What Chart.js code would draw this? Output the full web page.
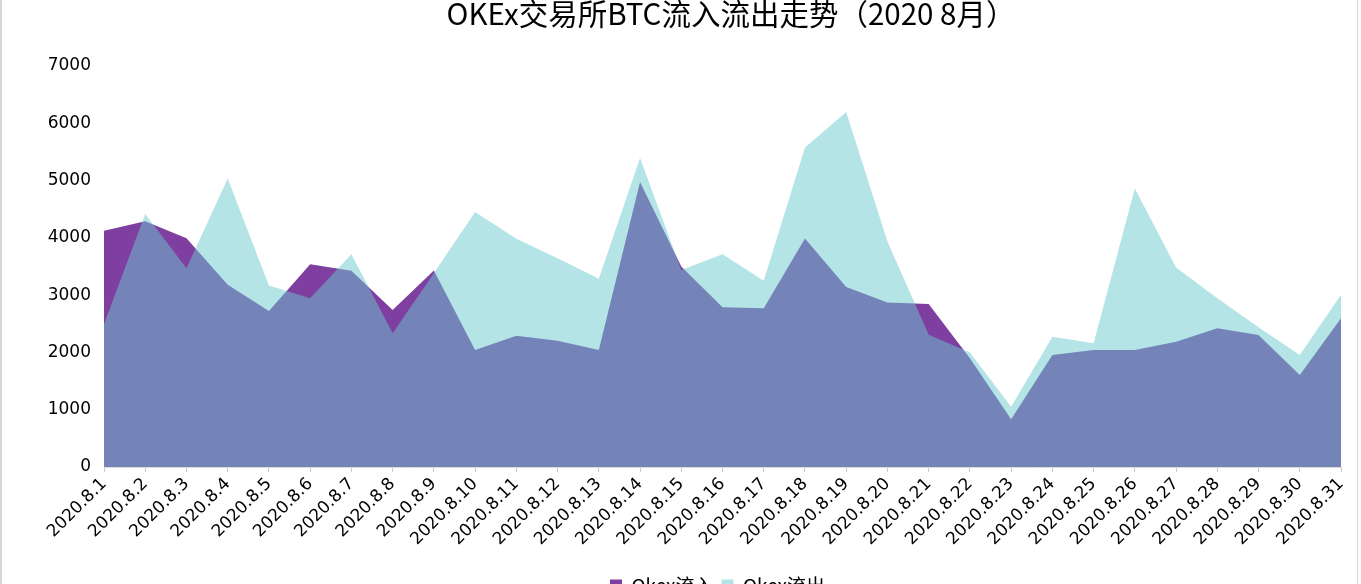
<!DOCTYPE html>
<html>
<head>
<meta charset="utf-8">
<title>OKEx交易所BTC流入流出走势</title>
<script src="https://cdn.jsdelivr.net/npm/chart.js@4/dist/chart.umd.min.js"></script>
<style>
  html, body { margin: 0; padding: 0; background: #fff; overflow: hidden; height: 584px; }
  #wrap { position: relative; width: 1361px; height: 584px; overflow: hidden; }
  #chart { position: absolute; left: 0; top: 0; }
  #title {
    position: absolute; left: 731px; top: -8px; transform: translateX(-50%);
    margin: 0; white-space: nowrap; font-weight: normal; color: #000;
    font-family: 'Noto Sans CJK SC', sans-serif; font-size: 29.5px; line-height: 40px;
  }
  .edge { position: absolute; top: 0; height: 584px; background: #d6d6d6; }
</style>
</head>
<body>
<div id="wrap">
  <canvas id="chart" width="1361" height="605"></canvas>
  <h1 id="title">OKEx交易所BTC流入流出走势（2020 8月）</h1>
  <div class="edge" style="left:0;width:2px"></div>
  <div class="edge" style="left:1357px;width:1px"></div>
</div>
<script>
const categories = [
    "2020.8.1", "2020.8.2", "2020.8.3", "2020.8.4", "2020.8.5", "2020.8.6", "2020.8.7", "2020.8.8",
    "2020.8.9", "2020.8.10", "2020.8.11", "2020.8.12", "2020.8.13", "2020.8.14", "2020.8.15", "2020.8.16",
    "2020.8.17", "2020.8.18", "2020.8.19", "2020.8.20", "2020.8.21", "2020.8.22", "2020.8.23", "2020.8.24",
    "2020.8.25", "2020.8.26", "2020.8.27", "2020.8.28", "2020.8.29", "2020.8.30", "2020.8.31"
];

// Okex流入
const inflow = [
    4125, 4290, 3995, 3180, 2725, 3540, 3425, 2742, 3430, 2042, 2292, 2205, 2042, 4975, 3500, 2788,
    2770, 3990, 3140, 2870, 2847, 1900, 835, 1955, 2042, 2042, 2187, 2420, 2305, 1605, 2595
];

// Okex流出
const outflow = [
    2490, 4415, 3470, 5035, 3168, 2945, 3715, 2333, 3380, 4450, 3985, 3645, 3285, 5395, 3440, 3715,
    3250, 5576, 6195, 3937, 2310, 2000, 1050, 2275, 2160, 4860, 3482, 2945, 2438, 1955, 3005
];

const yTicks = [0, 1000, 2000, 3000, 4000, 5000, 6000, 7000];

// legend sits a bit right of the canvas centre in the original
const shiftLegend = {
    id: "shiftLegend",
    afterLayout(chart) {
        const lg = chart.legend;
        if (!lg) return;
        lg.left += 47;
        lg.right += 47;
        if (lg.legendHitBoxes) lg.legendHitBoxes.forEach(b => { b.left += 47; });
    }
};

const ctx = document.getElementById("chart").getContext("2d");
new Chart(ctx, {
    type: "line",
    data: {
        labels: categories,
        datasets: [
            {
                label: "Okex流入",
                data: inflow,
                backgroundColor: "rgb(127, 63, 160)",
                borderWidth: 0,
                pointRadius: 0,
                fill: "origin",
                tension: 0,
                order: 2
            },
            {
                label: "Okex流出",
                data: outflow,
                backgroundColor: "rgba(108, 201, 207, 0.5)",
                borderWidth: 0,
                pointRadius: 0,
                fill: "origin",
                tension: 0,
                order: 1
            }
        ]
    },
    options: {
        responsive: false,
        animation: false,
        devicePixelRatio: 1,
        layout: { padding: { top: 66, left: 0, right: 20, bottom: 0 } },
        plugins: {
            title: { display: false },
            legend: {
                position: "bottom",
                labels: {
                    color: "#000",
                    boxWidth: 12,
                    boxHeight: 12,
                    padding: 8,
                    font: { family: "'Noto Sans CJK SC', sans-serif", size: 19 },
                    sort: (a, b) => a.datasetIndex - b.datasetIndex
                }
            },
            tooltip: { enabled: false }
        },
        scales: {
            x: {
                grid: {
                    drawOnChartArea: false,
                    drawTicks: true,
                    tickLength: 5,
                    color: "#c8c8c8"
                },
                border: { display: true, color: "#d9d9d9", width: 1 },
                ticks: {
                    color: "#000",
                    minRotation: 45,
                    maxRotation: 45,
                    autoSkip: false,
                    padding: 2,
                    font: { family: "'DejaVu Sans', sans-serif", size: 17 }
                },
                afterFit: scale => { scale.height = 101; }
            },
            y: {
                min: 0,
                max: 7000,
                grid: { display: false, drawTicks: false },
                border: { display: false },
                afterBuildTicks: scale => { scale.ticks = yTicks.map(v => ({ value: v })); },
                ticks: {
                    color: "#000",
                    padding: 13,
                    font: { family: "'DejaVu Sans', sans-serif", size: 17 },
                    callback: v => String(v)
                },
                afterFit: scale => { scale.width = 104; }
            }
        }
    },
    plugins: [shiftLegend]
});
</script>
</body>
</html>
